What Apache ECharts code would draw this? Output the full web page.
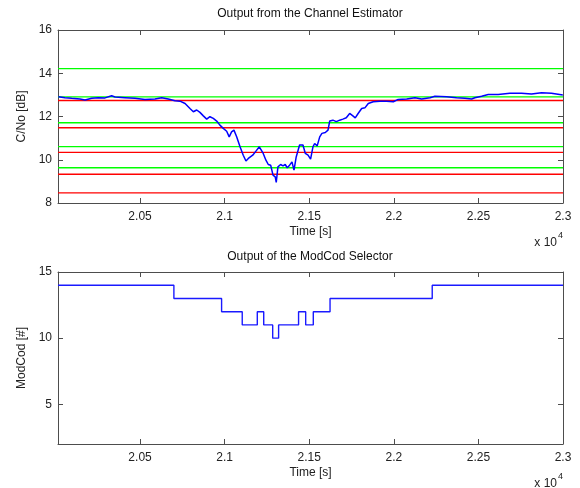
<!DOCTYPE html>
<html>
<head>
<meta charset="utf-8">
<script src="https://cdn.jsdelivr.net/npm/echarts@6/dist/echarts.min.js"></script>
<style>
html, body { margin: 0; padding: 0; background: #fff; }
#chart { width: 580px; height: 488px; }
</style>
</head>
<body>
<div id="chart"></div>
<script>
// C/No estimate over time (s, dB)
var cnoTimes = [20017, 20056, 20096, 20145, 20175, 20214, 20253, 20293, 20332, 20352,
    20411, 20470, 20529, 20588, 20628, 20667, 20706, 20736, 20766, 20795,
    20815, 20835, 20854, 20874, 20894, 20913, 20933, 20953, 20972, 20992,
    21012, 21027, 21041, 21055, 21071, 21091, 21110, 21126, 21140, 21150,
    21166, 21185, 21205, 21215, 21228, 21244, 21258, 21272, 21286, 21299,
    21305, 21315, 21331, 21345, 21358, 21370, 21384, 21398, 21410, 21423,
    21443, 21463, 21477, 21493, 21508, 21522, 21532, 21547, 21562, 21575,
    21595, 21611, 21621, 21640, 21660, 21680, 21699, 21719, 21739, 21758,
    21772, 21789, 21810, 21829, 21849, 21878, 21918, 21957, 21997, 22026,
    22076, 22125, 22164, 22214, 22243, 22312, 22371, 22420, 22460, 22479,
    22519, 22558, 22617, 22686, 22755, 22814, 22873, 22932, 22999];
var cnoValues = [12.91, 12.87, 12.84, 12.81, 12.76, 12.84, 12.87, 12.86, 12.96, 12.90,
    12.87, 12.84, 12.79, 12.81, 12.87, 12.81, 12.73, 12.71, 12.60, 12.37,
    12.22, 12.30, 12.19, 12.03, 11.88, 11.99, 11.91, 11.79, 11.60, 11.45,
    11.32, 11.06, 11.29, 11.37, 11.06, 10.60, 10.21, 9.94, 10.06, 9.98,
    10.21, 10.40, 10.60, 10.64, 10.29, 9.98, 9.78, 9.75, 9.29, 9.21,
    8.95, 9.67, 9.78, 9.72, 9.78, 9.63, 9.75, 9.90, 9.52, 10.13,
    10.68, 10.68, 10.29, 10.21, 10.03, 10.60, 10.75, 10.64, 11.06, 11.22,
    11.26, 11.37, 11.79, 11.83, 11.76, 11.83, 11.88, 11.94, 12.14, 12.03,
    11.94, 12.14, 12.37, 12.40, 12.60, 12.68, 12.71, 12.71, 12.68, 12.79,
    12.81, 12.87, 12.81, 12.87, 12.94, 12.91, 12.87, 12.84, 12.81, 12.87,
    12.94, 13.02, 13.02, 13.07, 13.07, 13.04, 13.10, 13.07, 12.99];

// switching thresholds (dB)
var greenThresholds = [14.21, 12.91, 11.71, 10.61, 9.63];
var redThresholds = [12.74, 11.48, 10.34, 9.33, 8.47];

// ModCod selector output (switch times and new index)
var modcodTimes = [20015, 20700, 20982, 21104, 21193, 21231, 21284, 21319, 21437, 21479, 21524, 21623, 22227, 23000];
var modcodValues = [14, 13, 12, 11, 12, 11, 10, 11, 12, 11, 12, 13, 14, 14];

// axes
var timeMin = 20015, timeMax = 23000;
var timeTicks = [20500, 21000, 21500, 22000, 22500, 23000];
var cnoTicks = [8, 10, 12, 14, 16];
var modcodTicks = [5, 10, 15];

var font = "'Liberation Sans', Arial, sans-serif";
var axisCol = "#4d4d4d";
var txtCol = "#222";

function zip(xs, ys) {
    var out = [];
    for (var i = 0; i < xs.length; i++) out.push([xs[i], ys[i]]);
    return out;
}

// one flat line series per threshold
function thresholdSeries(vals, color) {
    var list = [];
    for (var i = 0; i < vals.length; i++) {
        list.push({
            type: "line", xAxisIndex: 0, yAxisIndex: 0, silent: true,
            showSymbol: false, z: 2,
            data: [[timeMin, vals[i]], [timeMax, vals[i]]],
            lineStyle: { color: color, width: 1.3 }
        });
    }
    return list;
}

function xAxisFor(grid, pos, showLabel, name) {
    return {
        type: "value", gridIndex: grid, position: pos,
        min: timeMin, max: timeMax,
        name: name, nameLocation: "middle", nameGap: 23,
        nameTextStyle: { fontFamily: font, fontSize: 12, color: txtCol },
        axisLine: { show: true, lineStyle: { color: axisCol, width: 1 } },
        axisTick: { show: true, inside: true, length: 5, customValues: timeTicks, lineStyle: { color: axisCol } },
        axisLabel: {
            show: showLabel, customValues: timeTicks, margin: 8,
            fontFamily: font, fontSize: 12, color: txtCol,
            formatter: function (v) { return String(v / 10000); }
        },
        splitLine: { show: false }
    };
}

function yAxisFor(grid, pos, showLabel, min, max, ticks, name) {
    return {
        type: "value", gridIndex: grid, position: pos,
        min: min, max: max,
        name: name, nameLocation: "middle", nameGap: 28,
        nameTextStyle: { fontFamily: font, fontSize: 12, color: txtCol },
        axisLine: { show: true, lineStyle: { color: axisCol, width: 1 } },
        axisTick: { show: true, inside: true, length: 5, customValues: ticks, lineStyle: { color: axisCol } },
        axisLabel: { show: showLabel, customValues: ticks, margin: 6, fontFamily: font, fontSize: 12, color: txtCol },
        splitLine: { show: false }
    };
}

var chart = echarts.init(document.getElementById("chart"));
var series = []
    .concat(thresholdSeries(greenThresholds, "#00ff00"))
    .concat(thresholdSeries(redThresholds, "#ff0000"));
series.push({
    name: "C/No", type: "line", xAxisIndex: 0, yAxisIndex: 0, z: 5,
    showSymbol: false, data: zip(cnoTimes, cnoValues),
    lineStyle: { color: "#0000ff", width: 1.5 }
});
series.push({
    name: "ModCod", type: "line", xAxisIndex: 2, yAxisIndex: 2, step: "end",
    showSymbol: false, data: zip(modcodTimes, modcodValues),
    lineStyle: { color: "#1a1aff", width: 1.4 }
});

var option = {
    animation: false,
    backgroundColor: "#fff",
    grid: [
        { left: 58, right: 17, top: 30, height: 173 },
        { left: 58, right: 17, top: 272, height: 172 }
    ],
    xAxis: [
        xAxisFor(0, "bottom", true, "Time [s]"),
        xAxisFor(0, "top", false, ""),
        xAxisFor(1, "bottom", true, "Time [s]"),
        xAxisFor(1, "top", false, "")
    ],
    yAxis: [
        yAxisFor(0, "left", true, 8, 16, cnoTicks, "C/No [dB]"),
        yAxisFor(0, "right", false, 8, 16, cnoTicks, ""),
        yAxisFor(1, "left", true, 2, 15, modcodTicks, "ModCod [#]"),
        yAxisFor(1, "right", false, 2, 15, modcodTicks, "")
    ],
    graphic: [
        { type: "text", x: 310, y: 14, style: { text: "Output from the Channel Estimator", fontFamily: font, fontSize: 12, fill: "#111", align: "center", verticalAlign: "middle" } },
        { type: "text", x: 310, y: 257, style: { text: "Output of the ModCod Selector", fontFamily: font, fontSize: 12, fill: "#111", align: "center", verticalAlign: "middle" } },
        { type: "text", x: 557, y: 243, style: { text: "x 10", fontFamily: font, fontSize: 12, fill: txtCol, align: "right", verticalAlign: "middle" } },
        { type: "text", x: 558, y: 236, style: { text: "4", fontFamily: font, fontSize: 9, fill: txtCol, align: "left", verticalAlign: "middle" } },
        { type: "text", x: 557, y: 484, style: { text: "x 10", fontFamily: font, fontSize: 12, fill: txtCol, align: "right", verticalAlign: "middle" } },
        { type: "text", x: 558, y: 477, style: { text: "4", fontFamily: font, fontSize: 9, fill: txtCol, align: "left", verticalAlign: "middle" } }
    ],
    series: series
};
chart.setOption(option);
</script>
</body>
</html>
